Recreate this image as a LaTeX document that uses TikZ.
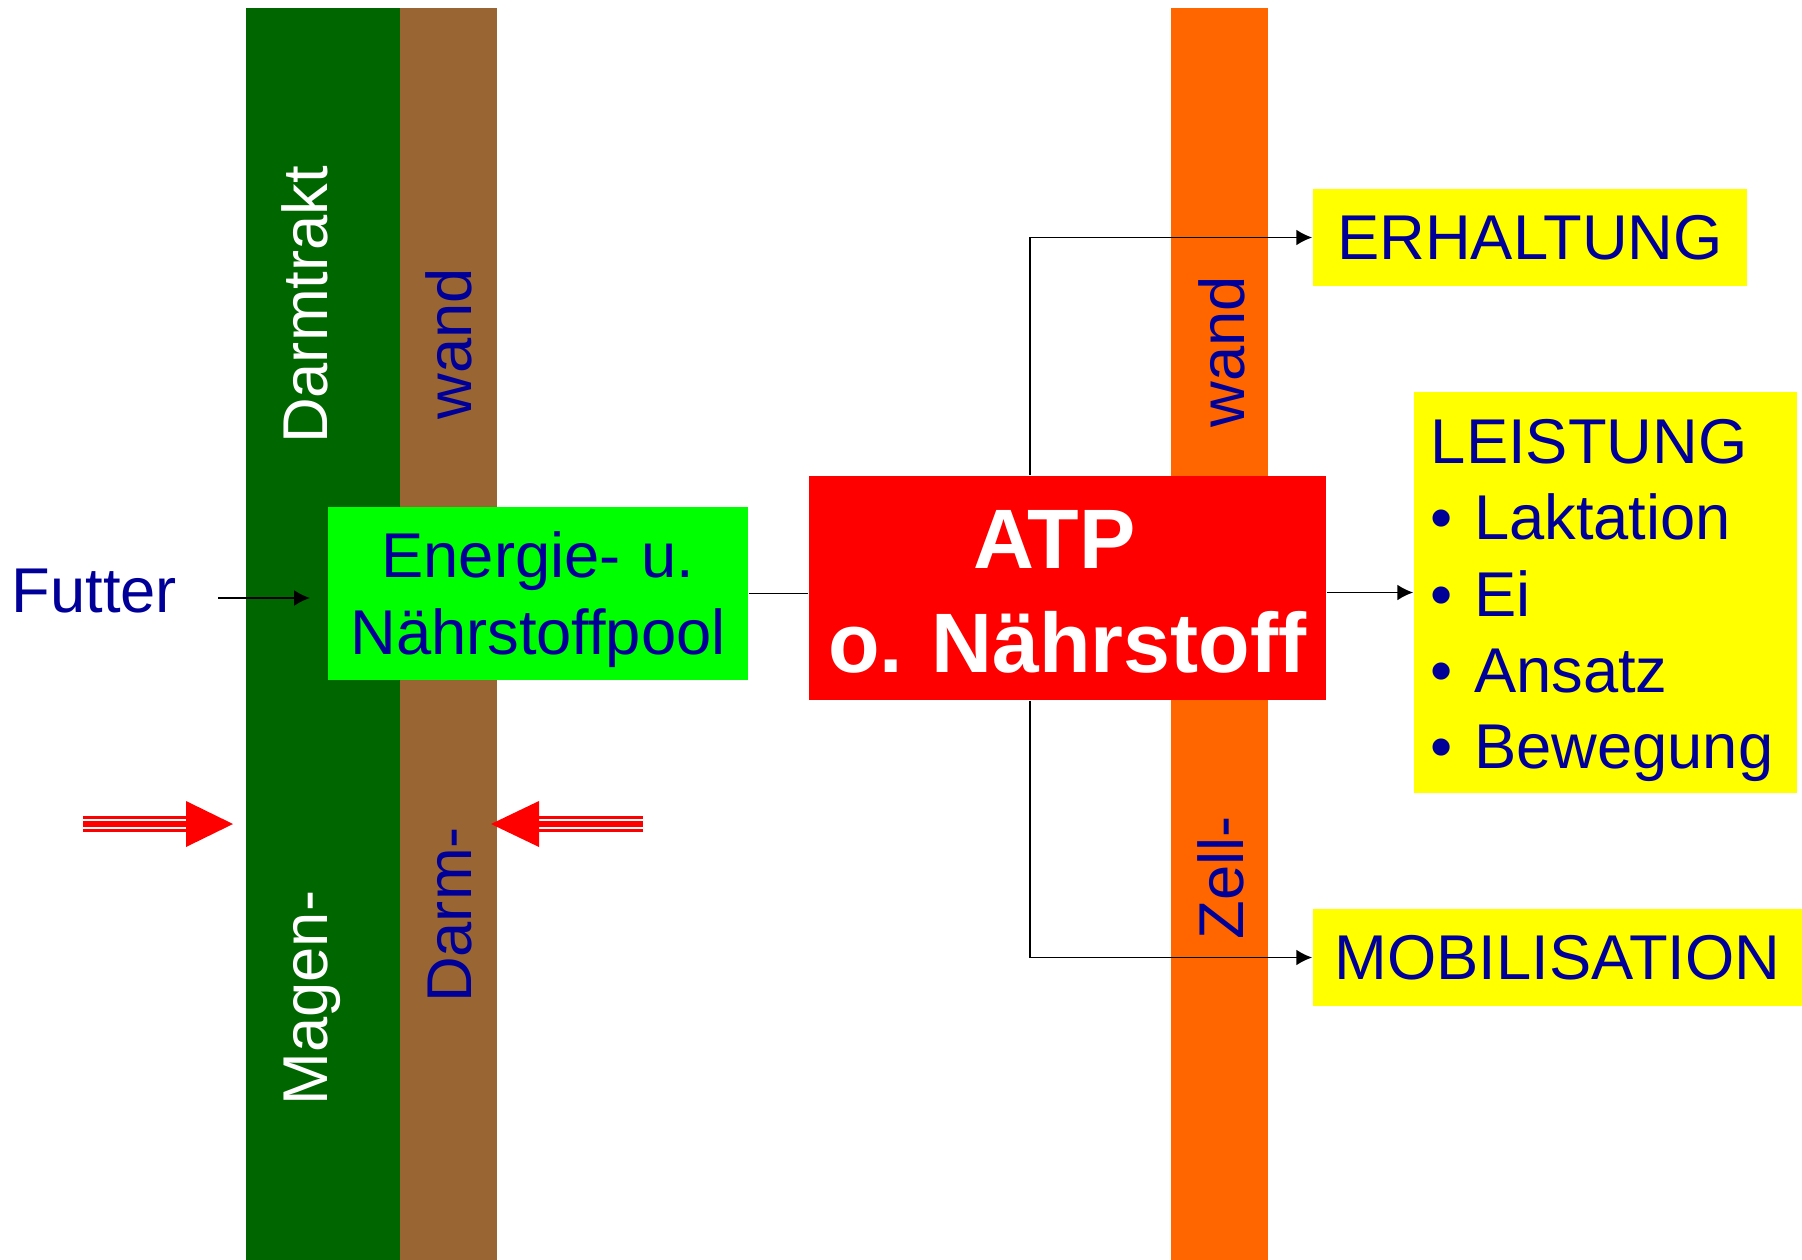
\documentclass[tikz,border=0pt]{standalone}
\usepackage{fontspec}
\setmainfont{Liberation Sans}
\usetikzlibrary{arrows.meta}
\frenchspacing

\definecolor{magengruen}{HTML}{006600}
\definecolor{darmbraun}{HTML}{996633}
\definecolor{zellorange}{HTML}{FF6600}
\definecolor{poolgruen}{HTML}{00FF00}
\definecolor{atprot}{HTML}{FF0000}
\definecolor{kastengelb}{HTML}{FFFF00}
\definecolor{schriftblau}{HTML}{000099}

\tikzset{kasten/.style = {shape=rectangle,inner sep=0,text=schriftblau}}
\tikzset{wandtext/.style = {rotate=90,anchor=base,inner sep=0}}
\tikzset{pfeil/.style = {-{Latex[length=4.5pt,width=4.5pt]},line width=0.5pt}}
\tikzset{schaft/.style = {atprot,line width=4.55pt,
    postaction={draw,white,line width=3.04pt},
    postaction={draw,atprot,line width=1.7pt}}}

\begin{document}
\begin{tikzpicture}[x=0.01cm,y=-0.01cm,font=\fontsize{18}{21.7}\selectfont]
          \useasboundingbox (0,0) rectangle (1802,1260);
          % Waende
          \fill[magengruen] (246,8) rectangle (400,1260);
          \fill[darmbraun] (400,8) rectangle (497,1260);
          \fill[zellorange] (1171,8) rectangle (1268,1260);

          \node[wandtext,text=white] (magen) at (327.7,998) {Magen-};
          \node[wandtext,text=white] (trakt) at (327.7,305) {Darmtrakt};
          \node[wandtext,text=schriftblau] (darm) at (471.7,915) {Darm-};
          \node[wandtext,text=schriftblau] (darmwand) at (471.7,344) {wand};
          \node[wandtext,text=schriftblau] (zell) at (1243,878) {Zell-};
          \node[wandtext,text=schriftblau] (zellwand) at (1244,352) {wand};

          % Kaesten
          \node[kasten,fill=poolgruen,minimum width=4.2cm,minimum height=1.73cm,
                text width=4.0cm,align=center,text height=0.46cm,text depth=0.77cm]
                (pool) at (538,593.5) {Energie- u.\\ Nährstoffpool};
          \node[kasten,fill=atprot,text=white,font=\fontsize{24}{29.3}\selectfont\bfseries,
                minimum width=5.17cm,minimum height=2.24cm,text width=5.0cm,align=center,
                text height=0.61cm,text depth=0.99cm]
                (atp) at (1067.5,588) {ATP\kern0.26cm\\ o. Nährstoff};
          \node[kasten,fill=kastengelb,minimum width=4.34cm,minimum height=0.97cm]
                (erhaltung) at (1530,237.5) {ERHALTUNG};
          \node[kasten,fill=kastengelb,minimum width=3.83cm,minimum height=4.01cm,
                inner xsep=0.17cm,text width=3.49cm,align=left,text height=0.46cm,text depth=3.04cm]
                (leistung) at (1605.5,592.5) {LEISTUNG\\ • Laktation\\ • Ei\\ • Ansatz\\ • Bewegung};
          \node[kasten,fill=kastengelb,minimum width=4.89cm,minimum height=0.97cm]
                (mobil) at (1557.5,957.5) {MOBILISATION};
          \node[text=schriftblau,anchor=base west,inner sep=0] (futter) at (11,612) {Futter};

          % Verbindungen
          \coordinate (futterstart) at (218,598);
          \coordinate (futterende) at (310,598);
          \draw[pfeil] (futterstart) -- (futterende);
          \draw[line width=0.5pt] (pool.east) -- (pool.east -| atp.west);
          \draw[pfeil] (leistung.west -| atp.east) -- (leistung.west);
          \draw[pfeil] ([xshift=-0.375cm]atp.north) |- (erhaltung.west);
          \draw[pfeil] ([xshift=-0.375cm]atp.south) |- (mobil.west);

          % rote Pfeile
          \draw[schaft] (83,824) -- (186,824);
          \fill[atprot] (186,801) -- (233,824) -- (186,847) -- cycle;
          \draw[schaft] (643,824) -- (539,824);
          \fill[atprot] (539,801) -- (491,824) -- (539,847) -- cycle;
        \end{tikzpicture}
\end{document}
